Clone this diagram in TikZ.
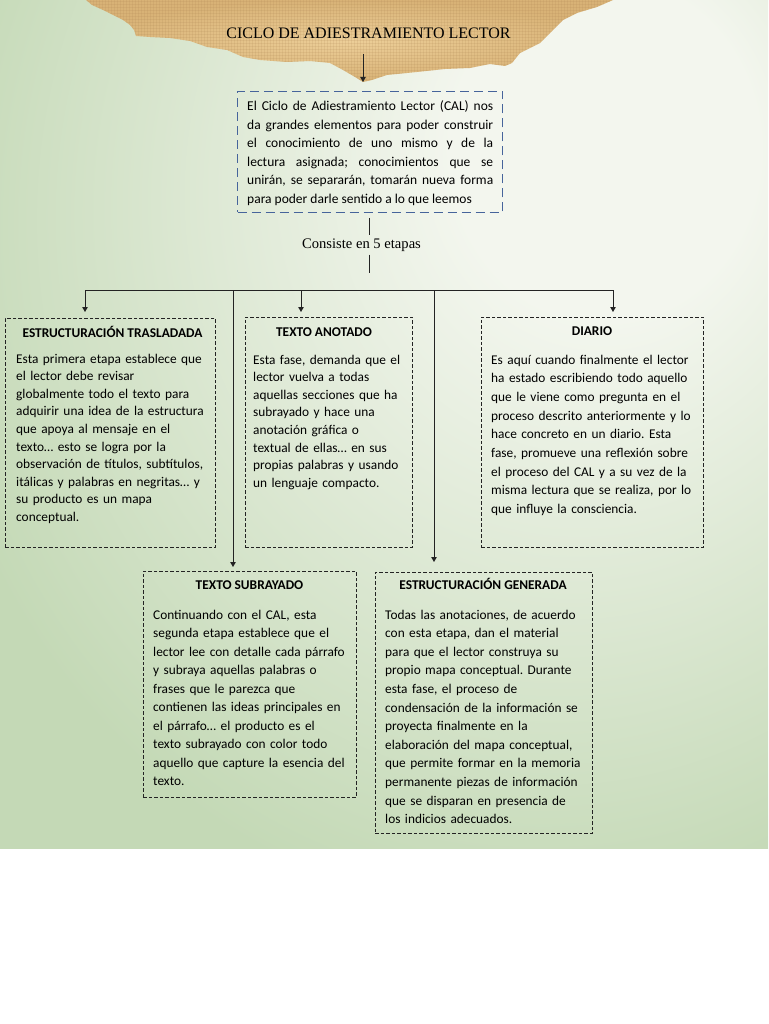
\documentclass[tikz,border=0pt]{standalone}
\usepackage{fontspec}
\setmainfont{Carlito}
\newfontfamily\headserif{Liberation Serif}
\usetikzlibrary{arrows.meta, positioning, calc, patterns}
\definecolor{leafgreen}{RGB}{196,217,182}
\definecolor{mistwhite}{RGB}{243,246,238}
\definecolor{paperlight}{RGB}{236,206,152}
\definecolor{paperdark}{RGB}{216,178,118}
\definecolor{paperweave}{RGB}{170,130,80}
\definecolor{introblue}{RGB}{70,100,155}
\definecolor{inkgray}{RGB}{35,35,35}
\pgfdeclareradialshading{mistglow}{\pgfpoint{16bp}{18bp}}{%
  color(0bp)=(mistwhite); color(10bp)=(mistwhite); color(40bp)=(leafgreen);
  color(100bp)=(leafgreen)}

\begin{document}
\frenchspacing
\begin{tikzpicture}[x=1pt, y=-1pt,
  stagebox/.style={draw=inkgray, dash pattern=on 3.5pt off 2pt, line width=0.9pt,
    inner sep=0pt, anchor=north west},
  stagehead/.style={anchor=base, inner sep=0pt, font=\fontsize{13.4}{16}\selectfont\bfseries},
  stagetext/.style={anchor=base west, align=left, inner sep=0pt, text width=225pt,
    font=\fontsize{13.35}{#1}\selectfont},
  link/.style={draw=inkgray, line width=0.9pt},
  dropline/.style={link, -{Triangle[length=5pt, width=5.5pt]}}
]
\useasboundingbox (0,0) rectangle (768,1024);

% background
\fill[white] (0,0) rectangle (768,1024);
\shade[shading=mistglow] (0,0) rectangle (768,848);

% torn paper
\shade[inner color=paperlight, outer color=paperdark,
  postaction={pattern=grid, pattern color=paperweave, opacity=0.15}]
  (86,0) -- (92,5) -- (103,10) -- (115,16) -- (123,20) -- (130,25) -- (134,30)
  -- (136,36) -- (150,37) -- (170,38) -- (190,41) -- (207,47) -- (227,50)
  -- (243,57) -- (260,60) -- (287,62) -- (310,61) -- (330,63) -- (343,70)
  -- (355,77) -- (363,82) -- (372,80) -- (387,75) -- (417,72) -- (445,69)
  -- (470,68) -- (490,64) -- (505,66) -- (512,63) -- (520,53) -- (540,43)
  -- (553,30) -- (563,20) -- (577,13) -- (597,7) -- (613,0) -- cycle;

\node[anchor=base, font=\headserif\fontsize{16}{19}\selectfont] (title) at (368.5,38.5)
  {CICLO DE ADIESTRAMIENTO LECTOR};

% intro box
\node[stagebox, draw=introblue, dash pattern=on 9pt off 5pt, line width=1pt,
  minimum width=265pt, minimum height=121pt] (intro) at (237,91) {};
\node[anchor=base west, inner sep=0pt, text width=246pt, align=justify,
  font=\fontsize{13.5}{18.6}\selectfont] (introtxt) at (247,110.5)
  {\hyphenpenalty=10000 \exhyphenpenalty=10000
   El Ciclo de Adiestramiento Lector (CAL) nos\linebreak
   da grandes elementos para poder construir\linebreak
   el conocimiento de uno mismo y de la\linebreak
   lectura asignada; conocimientos que se\linebreak
   unirán, se separarán, tomarán nueva forma\linebreak
   para poder darle sentido a lo que leemos};

\coordinate (tx) at (363,0);
\draw[dropline, shorten <=12pt, shorten >=9pt] (title.south -| tx) -- (intro.north -| tx);

\node[anchor=base, font=\headserif\fontsize{14.6}{17}\selectfont] (cons) at (361.5,248)
  {Consiste en 5 etapas};

\coordinate (cx) at (369,0);
\coordinate (hub) at (369,290);
\draw[link, shorten <=5pt] (intro.south -| cx) -- (cons.north -| cx);
\draw[link, shorten >=17pt] (cons.south -| cx) -- (hub);

% stage boxes
\node[stagebox, minimum width=210pt, minimum height=229pt] (b1) at (5,318) {};
\node[stagebox, minimum width=167pt, minimum height=230pt] (b2) at (245,317) {};
\node[stagebox, minimum width=222pt, minimum height=230pt] (b3) at (481,317) {};
\node[stagebox, minimum width=213pt, minimum height=226pt] (b4) at (143,571) {};
\node[stagebox, minimum width=217pt, minimum height=261pt] (b5) at (375,572) {};

\node[stagehead] (b1h) at (112.5,337) {ESTRUCTURACIÓN TRASLADADA};
\node[stagehead] (b2h) at (324,336) {TEXTO ANOTADO};
\node[stagehead] (b3h) at (592,335) {DIARIO};
\node[stagehead] (b4h) at (249.5,589) {TEXTO SUBRAYADO};
\node[stagehead] (b5h) at (483,589) {ESTRUCTURACIÓN GENERADA};

\node[stagetext=17.6] (b1t) at (16,363) {Esta primera etapa establece que\\
  el lector debe revisar\\
  globalmente todo el texto para\\
  adquirir una idea de la estructura\\
  que apoya al mensaje en el\\
  texto… esto se logra por la\\
  observación de títulos, subtítulos,\\
  itálicas y palabras en negritas… y\\
  su producto es un mapa\\
  conceptual.};
\node[stagetext=17.6] (b2t) at (253,364) {Esta fase, demanda que el\\
  lector vuelva a todas\\
  aquellas secciones que ha\\
  subrayado y hace una\\
  anotación gráfica o\\
  textual de ellas… en sus\\
  propias palabras y usando\\
  un lenguaje compacto.};
\node[stagetext=18.7] (b3t) at (491,364) {Es aquí cuando finalmente el lector\\
  ha estado escribiendo todo aquello\\
  que le viene como pregunta en el\\
  proceso descrito anteriormente y lo\\
  hace concreto en un diario. Esta\\
  fase, promueve una reflexión sobre\\
  el proceso del CAL y a su vez de la\\
  misma lectura que se realiza, por lo\\
  que influye la consciencia.};
\node[stagetext=18.5] (b4t) at (153,619) {Continuando con el CAL, esta\\
  segunda etapa establece que el\\
  lector lee con detalle cada párrafo\\
  y subraya aquellas palabras o\\
  frases que le parezca que\\
  contienen las ideas principales en\\
  el párrafo… el producto es el\\
  texto subrayado con color todo\\
  aquello que capture la esencia del\\
  texto.};
\node[stagetext=18.6] (b5t) at (385,619) {Todas las anotaciones, de acuerdo\\
  con esta etapa, dan el material\\
  para que el lector construya su\\
  propio mapa conceptual. Durante\\
  esta fase, el proceso de\\
  condensación de la información se\\
  proyecta finalmente en la\\
  elaboración del mapa conceptual,\\
  que permite formar en la memoria\\
  permanente piezas de información\\
  que se disparan en presencia de\\
  los indicios adecuados.};

% bus and drops
\coordinate (j1) at (85,290);
\coordinate (j2) at (233,290);
\coordinate (j3) at (301,290);
\coordinate (j4) at (434,290);
\coordinate (j5) at (613,290);
\draw[link] (j1) -- (j5);
\draw[dropline, shorten >=6pt] (j1) -- (j1 |- b1.north);
\draw[dropline, shorten >=5pt] (j3) -- (j3 |- b2.north);
\draw[dropline, shorten >=5pt] (j5) -- (j5 |- b3.north);
\draw[dropline, shorten >=4pt] (j2) -- (j2 |- b4.north);
\draw[dropline, shorten >=10pt] (j4) -- (j4 |- b5.north);
\end{tikzpicture}
\end{document}
